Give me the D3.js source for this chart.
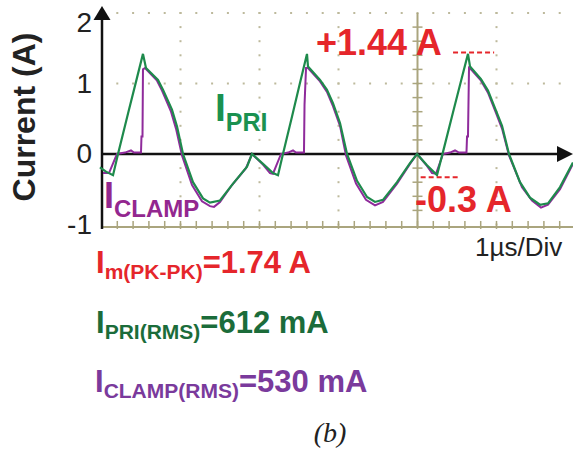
<!DOCTYPE html>
<html>
<head>
<meta charset="utf-8">
<style>
  body { margin: 0; background: #fff; }
  svg { display: block; font-family: "Liberation Sans", Arial, sans-serif; }
</style>
</head>
<body>
<svg width="573" height="456"></svg>
<script src="https://d3js.org/d3.v7.min.js"></script>
<script>
// time in us (1 us/div), current in A
var yTicks = [-1, 0, 1, 2];

var priTime = [-0.02, 0.057, 0.146, 0.209, 0.335, 0.449, 0.525, 0.563, 0.715, 0.778, 0.892, 0.956, 1.032, 1.158, 1.285, 1.373, 1.500, 1.665, 1.842, 1.905, 2.044, 2.171, 2.234,
  2.297, 2.411, 2.513, 2.601, 2.614, 2.766, 2.854, 2.930, 3.019, 3.108, 3.234, 3.361, 3.462, 3.563, 3.741, 3.905, 3.994, 4.120, 4.247,
  4.323, 4.449, 4.563, 4.639, 4.665, 4.804, 4.892, 4.981, 5.070, 5.158, 5.297, 5.424, 5.551, 5.652, 5.804, 5.968];
var priCurrent = [-0.19, -0.25, -0.30, 0.0, 0.57, 1.08, 1.42, 1.22, 1.05, 0.91, 0.63, 0.39, 0.0, -0.40, -0.63, -0.69, -0.66, -0.42, -0.18, 0.0, -0.14, -0.27, -0.30,
  0.0, 0.53, 1.01, 1.42, 1.24, 1.05, 0.91, 0.72, 0.44, 0.0, -0.38, -0.61, -0.68, -0.65, -0.40, -0.13, 0.0, -0.16, -0.30,
  0.03, 0.59, 1.09, 1.42, 1.24, 1.06, 0.90, 0.65, 0.40, 0.0, -0.40, -0.62, -0.72, -0.70, -0.47, -0.12];

var clampTime = [0.019, 0.095, 0.196, 0.297, 0.373, 0.411, 0.500, 0.506, 0.519, 0.525, 0.551, 0.703, 0.766, 0.880, 0.943, 1.019, 1.146, 1.272, 1.373, 1.424, 1.500, 1.652, 1.829, 1.905, 2.044, 2.133, 2.171,
  2.272, 2.361, 2.424, 2.462, 2.563, 2.570, 2.589, 2.614, 2.766, 2.854, 2.930, 3.019, 3.095, 3.222, 3.348, 3.462, 3.563, 3.741, 3.905, 3.994, 4.120, 4.184, 4.234,
  4.323, 4.411, 4.475, 4.525, 4.620, 4.627, 4.639, 4.652, 4.677, 4.804, 4.892, 4.981, 5.070, 5.158, 5.323, 5.449, 5.563, 5.652, 5.804, 5.968];
var clampCurrent = [-0.27, -0.27, 0.0, 0.02, 0.05, 0.02, 0.02, 0.25, 0.25, 1.20, 1.22, 1.04, 0.90, 0.60, 0.36, -0.02, -0.44, -0.67, -0.74, -0.75, -0.68, -0.44, -0.20, 0.0, -0.15, -0.27, -0.28,
  0.0, 0.02, 0.05, 0.02, 0.02, 0.70, 1.22, 1.22, 1.03, 0.88, 0.68, 0.40, -0.02, -0.42, -0.65, -0.73, -0.68, -0.42, -0.14, 0.0, -0.17, -0.27, -0.28,
  0.0, 0.02, 0.05, 0.02, 0.02, 0.25, 0.25, 1.22, 1.20, 1.04, 0.87, 0.62, 0.36, -0.02, -0.47, -0.66, -0.76, -0.72, -0.50, -0.14];

var peakValue = 1.44, troughValue = -0.3;

var svg = d3.select("svg");

var x = d3.scaleLinear().domain([0, 6]).range([101.5, 575.5]);
var y = d3.scaleLinear().domain([-1, 2]).range([224.5, 13]);

var khaki = "#aaa57e";
var g = svg.append("g");

// dotted grid
var gridDots = [];
[1, 2].forEach(function(v) {
  d3.range(1, 30).forEach(function(i) { gridDots.push([i * 0.2, v]); });
});
[1, 2, 3, 5].forEach(function(t) {
  d3.range(-5, 11).forEach(function(i) { gridDots.push([t, i * 0.2]); });
});
g.append("g").selectAll("rect")
  .data(gridDots)
  .enter().append("rect")
    .attr("x", function(d) { return x(d[0]) - 1; })
    .attr("y", function(d) { return y(d[1]) - 1; })
    .attr("width", 2)
    .attr("height", 2)
    .attr("fill", "#bdb99c");

// khaki scope axes
var yb = y(-1.035);
g.append("line").attr("x1", x(0)).attr("x2", 573).attr("y1", yb).attr("y2", yb)
  .attr("stroke", khaki).attr("stroke-width", 2);
g.append("g").selectAll("line")
  .data(d3.range(1, 30).map(function(i) { return i * 0.2; }))
  .enter().append("line")
    .attr("x1", function(d) { return x(d); }).attr("x2", function(d) { return x(d); })
    .attr("y1", yb - 6).attr("y2", yb + 2)
    .attr("stroke", khaki).attr("stroke-width", 1.5);

g.append("line").attr("x1", x(4)).attr("x2", x(4)).attr("y1", y(2)).attr("y2", yb)
  .attr("stroke", khaki).attr("stroke-width", 2);
g.append("g").selectAll("line")
  .data(d3.range(-4, 10).map(function(i) { return i * 0.2; }))
  .enter().append("line")
    .attr("x1", x(4) - 5).attr("x2", x(4) + 5)
    .attr("y1", function(d) { return y(d); }).attr("y2", function(d) { return y(d); })
    .attr("stroke", khaki).attr("stroke-width", 1.5);

// black axes with arrows
g.append("line").attr("x1", x(0) + 0.5).attr("x2", x(0) + 0.5).attr("y1", yb + 2).attr("y2", 18)
  .attr("stroke", "#111").attr("stroke-width", 2.5);
g.append("path")
  .attr("d", "M" + (x(0) + 0.5) + ",6L" + (x(0) + 9) + ",20L" + (x(0) - 8) + ",20Z")
  .attr("fill", "#111");
g.append("line").attr("x1", x(0)).attr("x2", 560).attr("y1", y(0)).attr("y2", y(0))
  .attr("stroke", "#111").attr("stroke-width", 2.5);
g.append("path")
  .attr("d", "M573," + y(0) + "L557," + (y(0) - 8) + "L557," + (y(0) + 8) + "Z")
  .attr("fill", "#111");

// traces
var line = d3.line()
  .x(function(d) { return x(d[0]); })
  .y(function(d) { return y(d[1]); });

g.append("path")
  .datum(d3.zip(clampTime, clampCurrent))
  .attr("d", line)
  .attr("fill", "none")
  .attr("stroke", "#8f2b9b")
  .attr("stroke-width", 2);

g.append("path")
  .datum(d3.zip(priTime, priCurrent))
  .attr("d", line)
  .attr("fill", "none")
  .attr("stroke", "#1e8a4c")
  .attr("stroke-width", 2.2);

// y tick labels
g.append("g").selectAll("text")
  .data(yTicks)
  .enter().append("text")
    .attr("x", 92)
    .attr("y", function(d) { return d === 2 ? y(d) + 19 : y(d) + 9; })
    .attr("text-anchor", "end")
    .attr("font-size", 28)
    .attr("fill", "#222")
    .text(function(d) { return d; });

svg.append("text")
  .attr("transform", "translate(35,117) rotate(-90)")
  .attr("text-anchor", "middle")
  .attr("font-size", 32)
  .attr("font-weight", "bold")
  .attr("fill", "#222")
  .text("Current (A)");

svg.append("text")
  .attr("x", 475).attr("y", 256)
  .attr("font-size", 26)
  .attr("fill", "#222")
  .text("1\u00b5s/Div");

// trace labels
function subLabel(x0, y0, big, small, main, sub, drop, color, rest) {
  var t = svg.append("text")
    .attr("x", x0).attr("y", y0)
    .attr("font-weight", "bold")
    .attr("fill", color);
  t.append("tspan").attr("font-size", big).text(main);
  t.append("tspan").attr("font-size", small).attr("dy", drop).text(sub);
  if (rest) t.append("tspan").attr("font-size", big).attr("dy", -drop).text(rest);
  return t;
}

subLabel(215, 121, 39, 25, "I", "PRI", 10, "#1a9150");
subLabel(104, 208, 36, 24, "I", "CLAMP", 9, "#93278f");

// peak / trough annotations
var red = "#e5262b";
svg.append("text").attr("x", 316).attr("y", 55)
  .attr("font-size", 36).attr("font-weight", "bold").attr("fill", red)
  .text("+" + peakValue.toFixed(2) + " A");
svg.append("text").attr("x", 415).attr("y", 212)
  .attr("font-size", 36).attr("font-weight", "bold").attr("fill", red)
  .text(troughValue.toFixed(1) + " A");

g.append("line").attr("x1", x(4.45)).attr("x2", x(4.97))
  .attr("y1", y(peakValue)).attr("y2", y(peakValue))
  .attr("stroke", red).attr("stroke-width", 2).attr("stroke-dasharray", "5,3");
g.append("line").attr("x1", x(4.04)).attr("x2", x(4.54))
  .attr("y1", y(troughValue) + 2).attr("y2", y(troughValue) + 2)
  .attr("stroke", red).attr("stroke-width", 2).attr("stroke-dasharray", "5,3");

// measurement summary
subLabel(96, 273, 31, 21, "I", "m(PK-PK)", 6, red, "=1.74 A");
subLabel(96, 333, 31, 21, "I", "PRI(RMS)", 6, "#1b6c3a", "=612 mA");
subLabel(95, 392, 31, 21, "I", "CLAMP(RMS)", 6, "#7a3a9c", "=530 mA");

svg.append("text")
  .attr("x", 330).attr("y", 442)
  .attr("text-anchor", "middle")
  .attr("font-family", "'Liberation Serif', 'Times New Roman', serif")
  .attr("font-style", "italic")
  .attr("font-size", 28)
  .attr("fill", "#222")
  .text("(b)");
</script>
</body>
</html>
